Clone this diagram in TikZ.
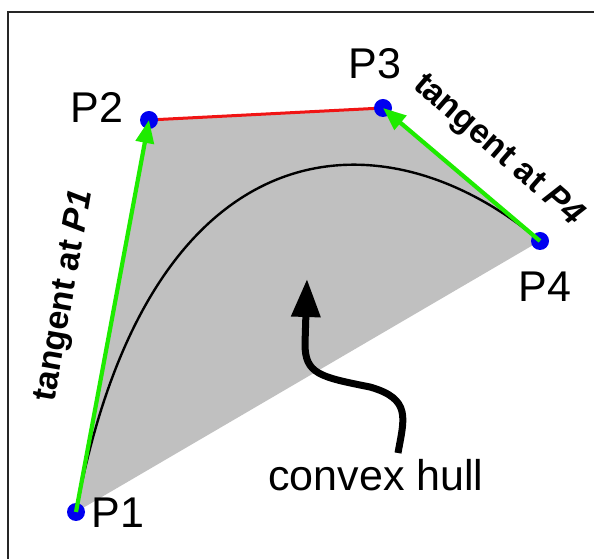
\documentclass[tikz,border=0pt]{standalone}
\usepackage{fontspec}
\setmainfont{Liberation Sans}
\usetikzlibrary{arrows.meta}
\definecolor{hullgray}{RGB}{192,192,192}
\definecolor{tgreen}{RGB}{30,235,0}
\definecolor{dotblue}{RGB}{0,0,240}
\definecolor{segred}{RGB}{240,20,20}
\tikzset{
  ptlabel/.style={font=\fontsize{43}{46}\selectfont, inner sep=0pt},
  tanlabel/.style={font=\fontsize{34}{36}\selectfont\bfseries, inner sep=0pt},
  tangentarrow/.style={draw=tgreen, line width=4.2pt, -{Triangle[length=23pt,width=18pt]}},
  ctrldot/.style={fill=dotblue},
  hullarrow/.style={draw=black, line width=7pt, -{Triangle[length=38pt,width=28pt]}},
  frameline/.style={draw=black!85, line width=2pt}
}
\begin{document}
\begin{tikzpicture}[x=1pt,y=1pt]
\useasboundingbox (0,0) rectangle (594,559);
\clip (0,0) rectangle (594,559);
\coordinate (P1) at (76,47);
\coordinate (P2) at (149,439);
\coordinate (P3) at (383,451);
\coordinate (P4) at (540,318);
% frame (only top and left edges visible)
\coordinate (fb) at (8,-20);
\coordinate (ftl) at (8,547);
\coordinate (fr) at (640,547);
\draw[frameline] (fb) -- (ftl) -- (fr);
% convex hull
\fill[hullgray] (P1) -- (P2) -- (P3) -- (P4) -- cycle;
% bezier curve
\draw[black, line width=2.4pt] (P1) .. controls (P2) and (P3) .. (P4);
% red control segment
\draw[segred, line width=3pt] (P2) -- (P3);
% control points
\foreach \p in {P1,P2,P3,P4} \fill[ctrldot] (\p) circle (9pt);
% tangent arrows
\draw[tangentarrow] (P1) -- (P2);
\draw[tangentarrow] (P4) -- (P3);
% labels
\node[ptlabel] (L1) at (118,46) {P1};
\node[ptlabel] (L2) at (97,452) {P2};
\node[ptlabel] (L3) at (375,495) {P3};
\node[ptlabel] (L4) at (545,272) {P4};
\node[tanlabel, rotate=80] (T1) at (65,263) {tangent at \textit{P1}};
\node[tanlabel, rotate=-41] (T4) at (498,408) {tangent at \textit{P4}};
\node[ptlabel] (CH) at (376,84) {convex hull};
% convex hull arrow
\coordinate (ht) at (398,106);
\coordinate (hm) at (370,172);
\coordinate (hb) at (305,215);
\coordinate (hh) at (307,280);
\draw[hullarrow] (ht) .. controls (404,140) and (412,160) .. (hm) .. controls (320,182) and (305,185) .. (hb) -- (hh);
\end{tikzpicture}
\end{document}
